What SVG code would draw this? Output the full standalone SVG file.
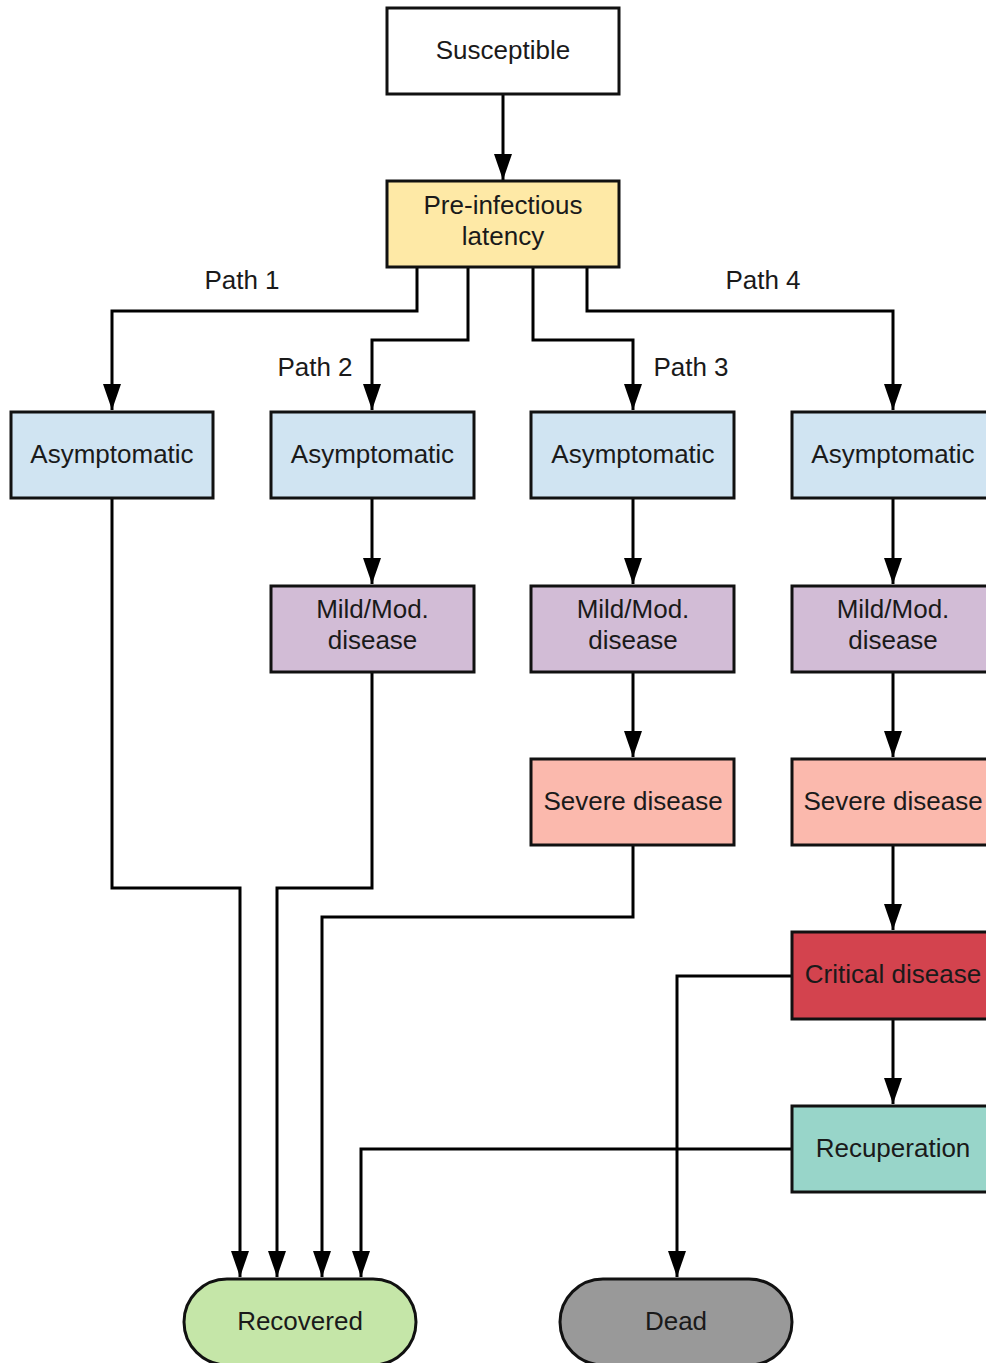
<svg xmlns="http://www.w3.org/2000/svg" width="986" height="1363" viewBox="0 0 986 1363">
  <style>
    .box { stroke: #111; stroke-width: 3; }
    .lbl { font-family: "Liberation Sans", Arial, sans-serif; font-size: 26px; fill: #1a1a1a; text-anchor: middle; }
    .edge { fill: none; stroke: #000; stroke-width: 3; marker-end: url(#arrow); }
  </style>
  <defs>
    <marker id="arrow" markerUnits="userSpaceOnUse" markerWidth="26" markerHeight="18" refX="26" refY="9" orient="auto" viewBox="0 0 26 18">
      <path d="M0,0 L26,9 L0,18 z" fill="#000"/>
    </marker>
  </defs>
  <rect width="986" height="1363" fill="#fff"/>

  <!-- connectors -->
  <g id="connectors">
    <path class="edge" d="M503,94 V180"/>
    <path class="edge" d="M417,267 V311 H112 V410"/>
    <path class="edge" d="M468,267 V340 H372 V410"/>
    <path class="edge" d="M533,267 V340 H633 V410"/>
    <path class="edge" d="M587,267 V311 H893 V410"/>
    <path class="edge" d="M372,498 V584"/>
    <path class="edge" d="M633,498 V584"/>
    <path class="edge" d="M893,498 V584"/>
    <path class="edge" d="M633,672 V757"/>
    <path class="edge" d="M893,672 V757"/>
    <path class="edge" d="M893,845 V930"/>
    <path class="edge" d="M893,1019 V1104"/>
    <path class="edge" d="M112,498 V888 H240 V1277"/>
    <path class="edge" d="M372,672 V888 H277 V1277"/>
    <path class="edge" d="M633,845 V917 H322 V1277"/>
    <path class="edge" d="M792,1149 H361 V1277"/>
    <path class="edge" d="M792,976 H677 V1277"/>
    <text class="lbl" x="242" y="289">Path 1</text>
    <text class="lbl" x="315" y="376">Path 2</text>
    <text class="lbl" x="691" y="376">Path 3</text>
    <text class="lbl" x="763" y="289">Path 4</text>
  </g>

  <g id="susceptible">
    <rect class="box" x="387" y="8" width="232" height="86" fill="#ffffff"/>
    <text class="lbl" x="503" y="59">Susceptible</text>
  </g>
  <g id="latency">
    <rect class="box" x="387" y="181" width="232" height="86" fill="#fee9a6"/>
    <text class="lbl" x="503" y="214">Pre-infectious</text>
    <text class="lbl" x="503" y="245">latency</text>
  </g>

  <g id="asym1">
    <rect class="box" x="11" y="412" width="202" height="86" fill="#d0e4f2"/>
    <text class="lbl" x="112" y="463">Asymptomatic</text>
  </g>
  <g id="asym2">
    <rect class="box" x="271" y="412" width="203" height="86" fill="#d0e4f2"/>
    <text class="lbl" x="372.5" y="463">Asymptomatic</text>
  </g>
  <g id="asym3">
    <rect class="box" x="531" y="412" width="203" height="86" fill="#d0e4f2"/>
    <text class="lbl" x="633" y="463">Asymptomatic</text>
  </g>
  <g id="asym4">
    <rect class="box" x="792" y="412" width="203" height="86" fill="#d0e4f2"/>
    <text class="lbl" x="893" y="463">Asymptomatic</text>
  </g>

  <g id="mild2">
    <rect class="box" x="271" y="586" width="203" height="86" fill="#d2bcd6"/>
    <text class="lbl" x="372.5" y="618">Mild/Mod.</text>
    <text class="lbl" x="372.5" y="649">disease</text>
  </g>
  <g id="mild3">
    <rect class="box" x="531" y="586" width="203" height="86" fill="#d2bcd6"/>
    <text class="lbl" x="633" y="618">Mild/Mod.</text>
    <text class="lbl" x="633" y="649">disease</text>
  </g>
  <g id="mild4">
    <rect class="box" x="792" y="586" width="203" height="86" fill="#d2bcd6"/>
    <text class="lbl" x="893" y="618">Mild/Mod.</text>
    <text class="lbl" x="893" y="649">disease</text>
  </g>

  <g id="severe3">
    <rect class="box" x="531" y="759" width="203" height="86" fill="#fbb9ad"/>
    <text class="lbl" x="633" y="810">Severe disease</text>
  </g>
  <g id="severe4">
    <rect class="box" x="792" y="759" width="203" height="86" fill="#fbb9ad"/>
    <text class="lbl" x="893" y="810">Severe disease</text>
  </g>

  <g id="critical">
    <rect class="box" x="792" y="932" width="203" height="87" fill="#d3434e"/>
    <text class="lbl" x="893" y="983">Critical disease</text>
  </g>
  <g id="recuperation">
    <rect class="box" x="792" y="1106" width="203" height="86" fill="#98d5c9"/>
    <text class="lbl" x="893" y="1157">Recuperation</text>
  </g>

  <g id="recovered">
    <rect class="box" x="184" y="1279" width="232" height="86" rx="43" ry="43" fill="#c5e6a8"/>
    <text class="lbl" x="300" y="1330">Recovered</text>
  </g>
  <g id="dead">
    <rect class="box" x="560" y="1279" width="232" height="86" rx="43" ry="43" fill="#999999"/>
    <text class="lbl" x="676" y="1330">Dead</text>
  </g>
</svg>
